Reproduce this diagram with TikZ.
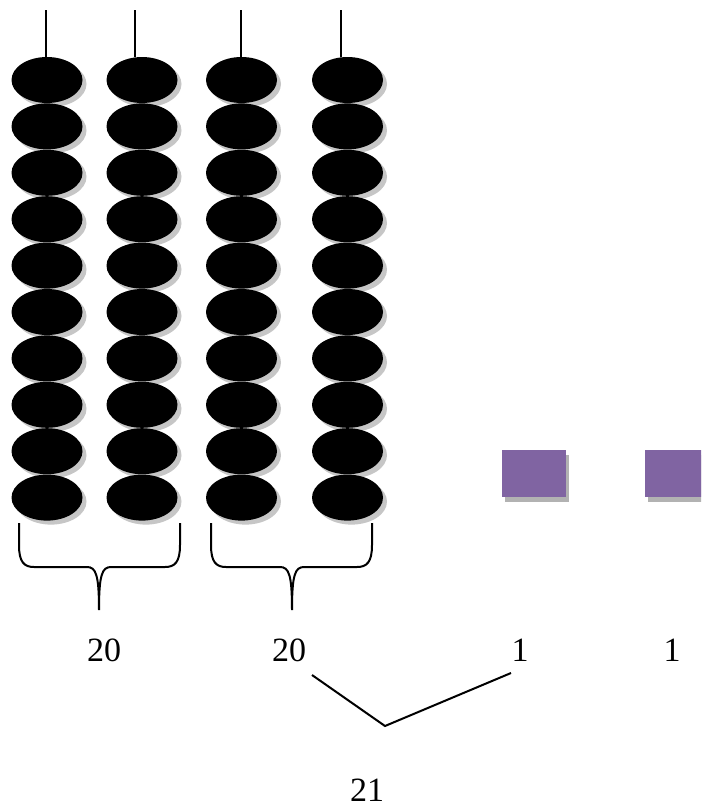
\documentclass[tikz,border=0pt]{standalone}
\usepackage{fontspec}
\setmainfont{Liberation Serif}
\usetikzlibrary{shapes.geometric,shadows}
\definecolor{tilepurple}{HTML}{8064A2}
\tikzset{
  bead/.style={ellipse, fill=black, inner sep=0pt,
    minimum width=53.25pt, minimum height=34.5pt,
    drop shadow={shadow xshift=3pt, shadow yshift=-3pt, fill=gray!45, opacity=1}},
  tile/.style={rectangle, fill=tilepurple, inner sep=0pt,
    minimum width=48pt, minimum height=35.25pt,
    drop shadow={shadow xshift=2.5pt, shadow yshift=-3.75pt, fill=gray!60, opacity=1}},
  wire/.style={line width=1.5pt, black},
  numlabel/.style={anchor=base, inner sep=0pt, font=\fontsize{25.5}{30}\selectfont}
}
\begin{document}
\begin{tikzpicture}[x=0.75pt, y=-0.75pt]
  \clip (0,0) rectangle (701,810);
  \fill[white] (0,0) rectangle (701,810);

  % four strings of ten beads each
  \foreach \c/\cx/\sx in {1/47/46, 2/142/135, 3/241.5/241, 4/347.5/341} {
    \coordinate (top-\c) at (\sx,10);
    \foreach \r in {1,...,10} {
      \node[bead] (b-\c-\r) at (\cx,{80+46.4*(\r-1)}) {};
    }
    \draw[wire] (top-\c) -- (top-\c |- b-\c-1.north);
  }

  % two single tiles
  \node[tile] (t1) at (534,473.5) {};
  \node[tile] (t2) at (677,473.5) {};

  % braces under each pair of strings
  \foreach \l/\r/\t in {19/180/99, 211/372/292} {
    \draw[wire]
      (\l,523) -- (\l,545) .. controls (\l,562) and (\l+5,567) .. (\l+15,567)
      -- (\t-12,567) .. controls (\t-3,567) and (\t,575) .. (\t,610)
      .. controls (\t,575) and (\t+3,567) .. (\t+12,567)
      -- (\r-15,567) .. controls (\r-5,567) and (\r,562) .. (\r,545) -- (\r,523);
  }

  % counts
  \node[numlabel] (n1) at (104,661) {20};
  \node[numlabel] (n2) at (289,661) {20};
  \node[numlabel] (n3) at (520,661) {1};
  \node[numlabel] (n4) at (672,661) {1};
  \node[numlabel] (sum) at (367,801) {21};

  % joining 20 and 1
  \coordinate (v-a) at (312,675);
  \coordinate (v-m) at (385,726);
  \coordinate (v-b) at (511,673);
  \draw[wire] (v-a) -- (v-m) -- (v-b);
\end{tikzpicture}
\end{document}
